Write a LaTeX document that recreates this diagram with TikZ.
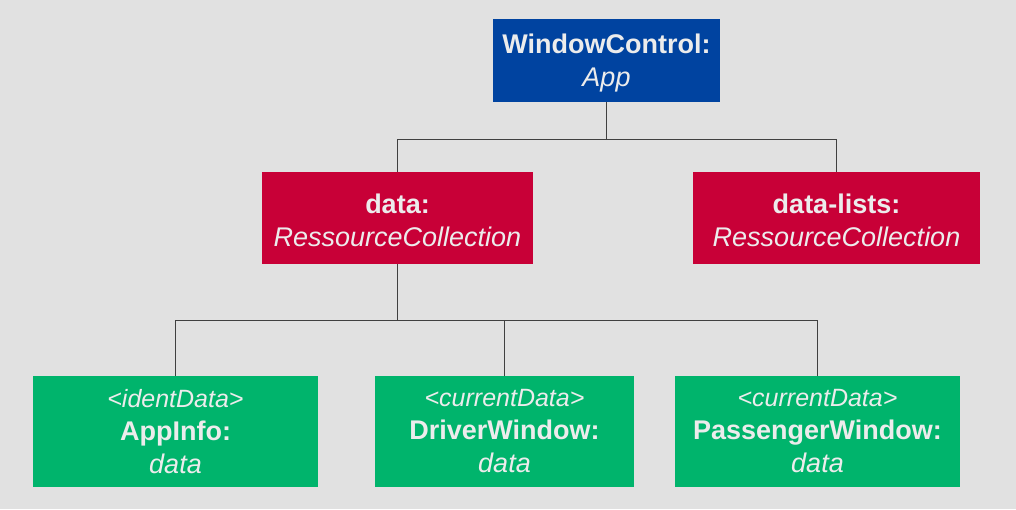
\documentclass[tikz,border=0pt]{standalone}
\usepackage{fontspec}
\setmainfont{Liberation Sans}
\definecolor{bg}{HTML}{E1E1E1}
\definecolor{cblue}{HTML}{0043A0}
\definecolor{cred}{HTML}{C80037}
\definecolor{cgreen}{HTML}{00B46C}
\definecolor{ctext}{HTML}{ECECEC}
\definecolor{cline}{HTML}{404040}
\begin{document}
\begin{tikzpicture}[x=1pt,y=-1pt,
  box/.style={draw=none,inner sep=0pt,align=center,text=ctext,
    font=\fontsize{27}{33}\selectfont},
  conn/.style={draw=cline,line width=1pt}]
\fill[bg] (0,0) rectangle (1016,509);
\useasboundingbox (0,0) rectangle (1016,509);
\node[box,fill=cblue,minimum width=227pt,minimum height=83pt] (top) at (606.5,60.5) {};
\node[box] (toptext) at (606.5,63) {\textbf{WindowControl:}\\\textit{App}};
\node[box,fill=cred,minimum width=271pt,minimum height=92pt] (ml) at (397.5,218) {};
\node[box] (mltext) at (397.5,220.5) {\textbf{data:}\\\textit{RessourceCollection}};
\node[box,fill=cred,minimum width=287pt,minimum height=92pt] (mr) at (836.5,218) {};
\node[box] (mrtext) at (836.5,220.5) {\textbf{data-lists:}\\\textit{RessourceCollection}};
\node[box,fill=cgreen,minimum width=285pt,minimum height=111pt] (b1) at (175.5,431.5)
  {{\fontsize{25}{33}\selectfont\textit{<identData>}}\\\textbf{AppInfo:}\\\textit{data}};
\node[box,fill=cgreen,minimum width=259pt,minimum height=111pt] (b2) at (504.5,431.5)
  {{\fontsize{25}{33}\selectfont\textit{<currentData>}}\\\textbf{DriverWindow:}\\\textit{data}};
\node[box,fill=cgreen,minimum width=285pt,minimum height=111pt] (b3) at (817.5,431.5)
  {{\fontsize{25}{33}\selectfont\textit{<currentData>}}\\\textbf{PassengerWindow:}\\\textit{data}};
\coordinate (j1) at (606.5,139);
\coordinate (j2) at (397.5,320);
\draw[conn] (top.south) -- (j1);
\draw[conn] (j1) -| (ml.north);
\draw[conn] (j1) -| (mr.north);
\draw[conn] (ml.south) -- (j2);
\draw[conn] (j2) -| (b1.north);
\draw[conn] (j2) -| (b2.north);
\draw[conn] (j2) -| (b3.north);
\end{tikzpicture}
\end{document}
